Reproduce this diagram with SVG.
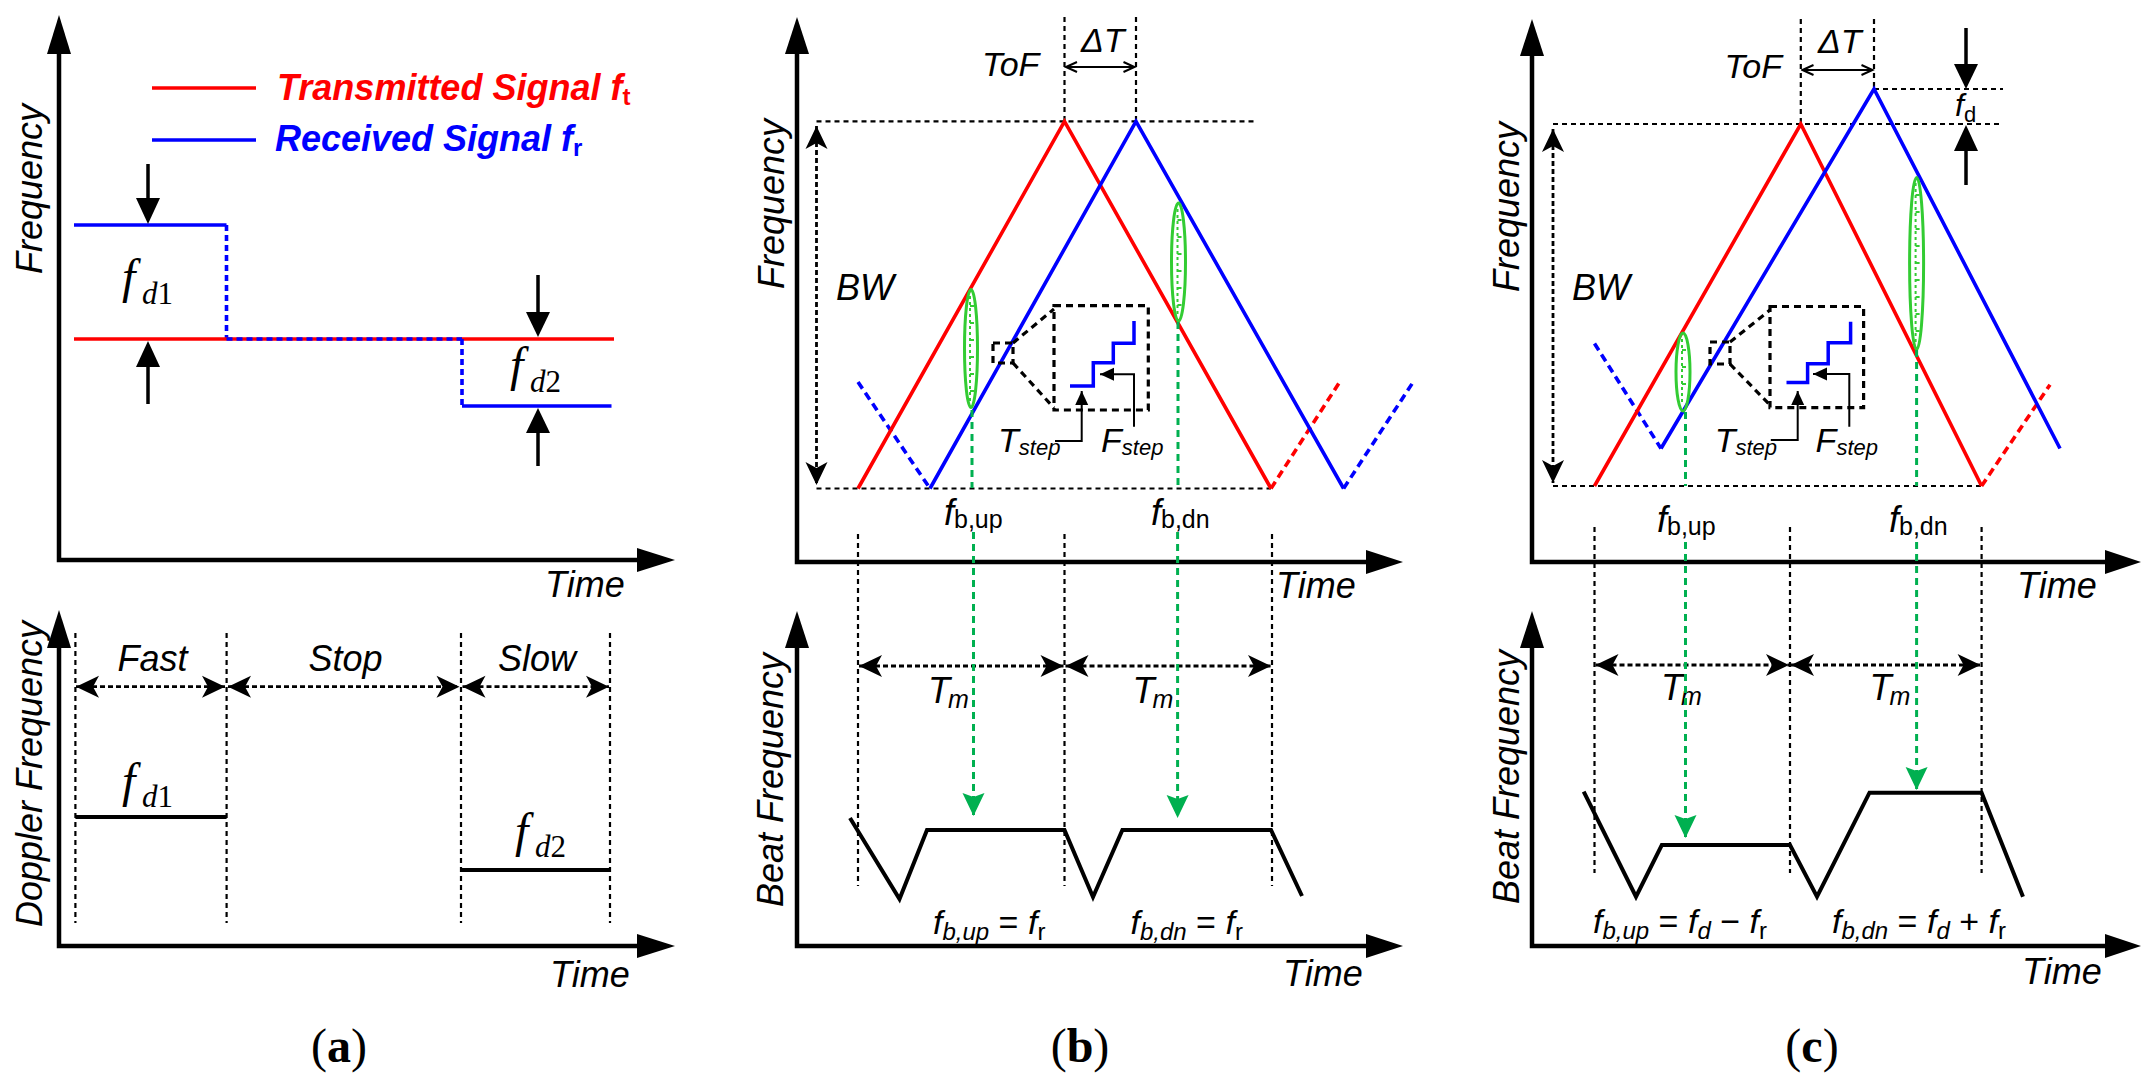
<svg xmlns="http://www.w3.org/2000/svg" width="2150" height="1089" viewBox="0 0 2150 1089">
<defs>
<style>
.ax{fill:none;stroke:#000;stroke-width:4.5;stroke-linejoin:miter}
.hd{fill:#000;stroke:none}
.dsh{fill:none;stroke:#000;stroke-width:2.2;stroke-dasharray:5 4}
.dar{fill:none;stroke:#000;stroke-width:2.8;stroke-dasharray:5 3}
.box{fill:none;stroke:#000;stroke-width:3.2;stroke-dasharray:7 5}
.red{fill:none;stroke:#f00;stroke-width:3.6;stroke-linejoin:miter}
.blu{fill:none;stroke:#00f;stroke-width:3.6;stroke-linejoin:miter}
.redd{fill:none;stroke:#f00;stroke-width:3.6;stroke-dasharray:8 5}
.blud{fill:none;stroke:#00f;stroke-width:3.6;stroke-dasharray:8 5}
.bdot{fill:none;stroke:#00f;stroke-width:3.6;stroke-dasharray:6 4}
.grn{fill:none;stroke:#00b050;stroke-width:3;stroke-dasharray:7 5}
.ell{fill:none;stroke:#33cc33;stroke-width:3}
.edot{fill:none;stroke:#33cc33;stroke-width:2;stroke-dasharray:3 3}
.etk{fill:none;stroke:#33cc33;stroke-width:2}
.blk{fill:none;stroke:#000;stroke-width:4;stroke-linejoin:miter}
.thin{fill:none;stroke:#000;stroke-width:2}
.ar{fill:none;stroke:#000;stroke-width:3.5}
.stair{fill:none;stroke:#00f;stroke-width:3.5}
.t{font-family:"Liberation Sans",Arial,sans-serif;font-style:italic;font-size:36px;fill:#000}
.f34{font-family:"Liberation Sans",Arial,sans-serif;font-size:34px;fill:#000}
.leg{font-family:"Liberation Sans",Arial,sans-serif;font-style:italic;font-weight:bold;font-size:36px}
.tm{font-family:"Liberation Serif","Times New Roman",serif;fill:#000}
.cap{font-family:"Liberation Serif","Times New Roman",serif;font-size:48px;text-anchor:middle;fill:#000}
</style>
<marker id="st" viewBox="-24 -12 26 24" refX="0" refY="0" markerWidth="26" markerHeight="24" markerUnits="userSpaceOnUse" orient="auto-start-reverse"><path d="M0,0 L-23,-11 L-17,0 L-23,11 Z" fill="#000"/></marker>
<marker id="ga" viewBox="-24 -12 26 24" refX="0" refY="0" markerWidth="26" markerHeight="24" markerUnits="userSpaceOnUse" orient="auto"><path d="M0,0 L-23,-11 L-19,0 L-23,11 Z" fill="#00b050"/></marker>
<marker id="sa" viewBox="-15 -8 16 16" refX="0" refY="0" markerWidth="16" markerHeight="16" markerUnits="userSpaceOnUse" orient="auto"><path d="M0,0 L-14,-6.5 L-14,6.5 Z" fill="#000"/></marker>
<marker id="oa" viewBox="-13 -7 15 14" refX="0" refY="0" markerWidth="15" markerHeight="14" markerUnits="userSpaceOnUse" orient="auto-start-reverse"><path d="M-11,-5 L0,0 L-11,5" fill="none" stroke="#000" stroke-width="2"/></marker>
</defs>
<rect width="2150" height="1089" fill="#fff"/>

<!-- ================= PANEL (a) TOP ================= -->
<g id="panel-a-top">
<polyline class="ax" points="59,52 59,560 640,560"/>
<polygon class="hd" points="59,15 47,54 71,54"/>
<polygon class="hd" points="675,560 637,548 637,572"/>
<text class="t" transform="translate(42,189) rotate(-90)" text-anchor="middle">Frequency</text>
<text class="t" x="545" y="597">Time</text>
<g id="legend">
<line class="red" x1="152" y1="88" x2="256" y2="88"/>
<line class="blu" x1="152" y1="140" x2="256" y2="140"/>
<text class="leg" x="277" y="100" fill="#f00">Transmitted Signal f<tspan font-size="24" dy="5" font-style="normal">t</tspan></text>
<text class="leg" x="275" y="151" fill="#00f">Received Signal f<tspan font-size="24" dy="5" font-style="normal">r</tspan></text>
</g>
<g id="signals-a">
<line class="blu" x1="74" y1="225" x2="226.5" y2="225"/>
<line class="bdot" x1="226.5" y1="225" x2="226.5" y2="339"/>
<line class="red" x1="74" y1="339" x2="614" y2="339"/>
<line class="bdot" x1="226.5" y1="339" x2="462" y2="339"/>
<line class="bdot" x1="462" y1="339" x2="462" y2="406"/>
<line class="blu" x1="462" y1="406" x2="611.5" y2="406"/>
</g>
<g id="fd-arrows-a">
<line class="ar" x1="148" y1="164" x2="148" y2="202"/><polygon class="hd" points="148,224 136,198 160,198"/>
<line class="ar" x1="148" y1="404" x2="148" y2="364"/><polygon class="hd" points="148,341 136,367 160,367"/>
<line class="ar" x1="538" y1="275" x2="538" y2="315"/><polygon class="hd" points="538,337 526,312 550,312"/>
<line class="ar" x1="538" y1="466" x2="538" y2="430"/><polygon class="hd" points="538,408 526,433 550,433"/>
</g>
<text class="tm" x="122" y="293" style="font-size:48px;font-style:italic">f</text>
<text class="tm" x="142" y="304" style="font-size:31px"><tspan style="font-style:italic">d</tspan>1</text>
<text class="tm" x="510" y="381" style="font-size:48px;font-style:italic">f</text>
<text class="tm" x="530" y="392" style="font-size:31px"><tspan style="font-style:italic">d</tspan>2</text>
</g>

<!-- ================= PANEL (a) BOTTOM ================= -->
<g id="panel-a-bottom">
<polyline class="ax" points="59,648 59,946 640,946"/>
<polygon class="hd" points="59,610 47,648 71,648"/>
<polygon class="hd" points="675,946 637,934 637,958"/>
<text class="t" transform="translate(42,774) rotate(-90)" text-anchor="middle">Doppler Frequency</text>
<text class="t" x="550" y="987">Time</text>
<line class="dsh" x1="75.4" y1="633" x2="75.4" y2="923"/>
<line class="dsh" x1="226.6" y1="633" x2="226.6" y2="923"/>
<line class="dsh" x1="461" y1="633" x2="461" y2="923"/>
<line class="dsh" x1="610" y1="633" x2="610" y2="923"/>
<line class="dar" x1="76" y1="686.7" x2="225" y2="686.7" marker-start="url(#st)" marker-end="url(#st)"/>
<line class="dar" x1="228" y1="686.7" x2="459.5" y2="686.7" marker-start="url(#st)" marker-end="url(#st)"/>
<line class="dar" x1="462.5" y1="686.7" x2="609" y2="686.7" marker-start="url(#st)" marker-end="url(#st)"/>
<text class="t" x="152.5" y="671" text-anchor="middle">Fast</text>
<text class="t" x="345.5" y="671" text-anchor="middle">Stop</text>
<text class="t" x="537" y="671" text-anchor="middle">Slow</text>
<line class="blk" x1="75.4" y1="817" x2="226.6" y2="817"/>
<line class="blk" x1="461" y1="870" x2="610" y2="870"/>
<text class="tm" x="122" y="797" style="font-size:48px;font-style:italic">f</text>
<text class="tm" x="142" y="807" style="font-size:31px"><tspan style="font-style:italic">d</tspan>1</text>
<text class="tm" x="515" y="847" style="font-size:48px;font-style:italic">f</text>
<text class="tm" x="535" y="857" style="font-size:31px"><tspan style="font-style:italic">d</tspan>2</text>
<text class="cap" x="339" y="1062">(<tspan font-weight="bold">a</tspan>)</text>
</g>

<!-- ================= PANEL (b) TOP ================= -->
<g id="panel-b-top">
<polyline class="ax" points="797,53 797,562 1366,562"/>
<polygon class="hd" points="797,17 785,54 809,54"/>
<polygon class="hd" points="1403,562 1366,550 1366,574"/>
<text class="t" transform="translate(784,204) rotate(-90)" text-anchor="middle">Frequency</text>
<text class="t" x="1276" y="598">Time</text>
<line class="dsh" x1="816.5" y1="121.4" x2="1256" y2="121.4"/>
<line class="dsh" x1="816.5" y1="488.5" x2="1271" y2="488.5"/>
<line class="dar" x1="816.5" y1="126" x2="816.5" y2="485" marker-start="url(#st)" marker-end="url(#st)"/>
<text class="t" x="836" y="300">BW</text>
<line class="dsh" x1="1064.5" y1="17" x2="1064.5" y2="121.4"/>
<line class="dsh" x1="1136" y1="17" x2="1136" y2="121.4"/>
<line class="thin" x1="1066" y1="67" x2="1134.5" y2="67" marker-start="url(#oa)" marker-end="url(#oa)"/>
<text class="t" x="982" y="76" style="font-size:34px">ToF</text>
<text class="t" x="1081" y="51.5" style="font-size:34px">ΔT</text>
<line class="blud" x1="858" y1="382" x2="930" y2="488.5"/>
<polyline class="red" points="858,488.5 1064.5,121.4 1271,488.5"/>
<line class="redd" x1="1271" y1="488.5" x2="1339" y2="383"/>
<polyline class="blu" points="930,488.5 1136,121.4 1343.6,488.5"/>
<line class="blud" x1="1343.6" y1="488.5" x2="1414.5" y2="380"/>
<g id="ellipses-b">
<ellipse class="ell" cx="971" cy="348.5" rx="6.5" ry="59"/>
<path class="edot" d="M970,296 V402"/>
<path class="etk" d="M970,306 h4 M970,323 h4 M970,340 h4 M970,357 h4 M970,374 h4 M970,391 h4"/>
<ellipse class="ell" cx="1178.5" cy="262" rx="7" ry="59"/>
<path class="edot" d="M1177.5,209 V315"/>
<path class="etk" d="M1177.5,220 h4 M1177.5,237 h4 M1177.5,254 h4 M1177.5,271 h4 M1177.5,288 h4 M1177.5,305 h4"/>
</g>
<g id="inset-b">
<rect class="box" x="993" y="343" width="20" height="20"/>
<line class="box" x1="1013" y1="343" x2="1054" y2="309"/>
<line class="box" x1="1013" y1="363" x2="1054" y2="408"/>
<rect class="box" x="1054" y="305.7" width="94.3" height="104.3"/>
<polyline class="stair" points="1070,386 1093.3,386 1093.3,362.7 1113.3,362.7 1113.3,343.3 1134,343.3 1134,321"/>
<polyline class="thin" points="1055,441 1081.7,441 1081.7,391" marker-end="url(#sa)"/>
<polyline class="thin" points="1134,426.7 1134,374.3 1100,374.3" marker-end="url(#sa)"/>
<text class="t" x="998" y="452" style="font-size:34px">T<tspan font-size="22" dy="3">step</tspan></text>
<text class="t" x="1101" y="452" style="font-size:34px">F<tspan font-size="22" dy="3">step</tspan></text>
</g>
<line class="grn" x1="972" y1="410" x2="972" y2="488"/>
<line class="grn" x1="1178" y1="322" x2="1178" y2="488"/>
<text class="t" x="944" y="525">f<tspan font-style="normal" font-size="25" dy="3">b,up</tspan></text>
<text class="t" x="1151" y="525">f<tspan font-style="normal" font-size="25" dy="3">b,dn</tspan></text>
</g>

<!-- ================= PANEL (b) BOTTOM ================= -->
<g id="panel-b-bottom">
<polyline class="ax" points="797,648 797,946 1366,946"/>
<polygon class="hd" points="797,611 785,648 809,648"/>
<polygon class="hd" points="1403,946 1366,934 1366,958"/>
<text class="t" transform="translate(783,780) rotate(-90)" text-anchor="middle">Beat Frequency</text>
<text class="t" x="1283" y="986">Time</text>
<line class="dsh" x1="858" y1="534" x2="858" y2="886"/>
<line class="dsh" x1="1064.5" y1="534" x2="1064.5" y2="886"/>
<line class="dsh" x1="1272" y1="534" x2="1272" y2="886"/>
<line class="dar" x1="859" y1="666" x2="1063.5" y2="666" marker-start="url(#st)" marker-end="url(#st)"/>
<line class="dar" x1="1065.5" y1="666" x2="1271" y2="666" marker-start="url(#st)" marker-end="url(#st)"/>
<text class="t" x="928" y="703">T<tspan font-size="25" dx="-2" dy="5">m</tspan></text>
<text class="t" x="1132.5" y="703">T<tspan font-size="25" dx="-2" dy="5">m</tspan></text>
<line class="grn" x1="973.5" y1="532" x2="973.5" y2="816" marker-end="url(#ga)"/>
<line class="grn" x1="1177.6" y1="532" x2="1177.6" y2="818" marker-end="url(#ga)"/>
<polyline class="blk" points="850,818 899.5,899 927,830 1064.5,830 1093,897 1122.4,830 1271,830 1302,896"/>
<text class="f34" x="933" y="934"><tspan font-style="italic">f</tspan><tspan font-style="italic" font-size="24" dy="6">b,up</tspan><tspan dy="-6"> = </tspan><tspan font-style="italic">f</tspan><tspan font-size="24" dy="6">r</tspan></text>
<text class="f34" x="1130.5" y="934"><tspan font-style="italic">f</tspan><tspan font-style="italic" font-size="24" dy="6">b,dn</tspan><tspan dy="-6"> = </tspan><tspan font-style="italic">f</tspan><tspan font-size="24" dy="6">r</tspan></text>
<text class="cap" x="1080" y="1062">(<tspan font-weight="bold">b</tspan>)</text>
</g>

<!-- ================= PANEL (c) TOP ================= -->
<g id="panel-c-top">
<polyline class="ax" points="1532,55 1532,562 2105,562"/>
<polygon class="hd" points="1532,19 1520,56 1544,56"/>
<polygon class="hd" points="2141,562 2105,550 2105,574"/>
<text class="t" transform="translate(1519,207) rotate(-90)" text-anchor="middle">Frequency</text>
<text class="t" x="2017" y="598">Time</text>
<line class="dsh" x1="1553" y1="124" x2="2001" y2="124"/>
<line class="dsh" x1="1874" y1="89" x2="2003" y2="89"/>
<line class="dsh" x1="1553" y1="486" x2="1981.6" y2="486"/>
<line class="dar" x1="1553" y1="129" x2="1553" y2="483" marker-start="url(#st)" marker-end="url(#st)"/>
<text class="t" x="1572" y="300">BW</text>
<line class="dsh" x1="1800.8" y1="19" x2="1800.8" y2="124"/>
<line class="dsh" x1="1874" y1="19" x2="1874" y2="89"/>
<line class="thin" x1="1802.5" y1="70" x2="1872.5" y2="70" marker-start="url(#oa)" marker-end="url(#oa)"/>
<text class="t" x="1724.6" y="78" style="font-size:34px">ToF</text>
<text class="t" x="1818" y="53.4" style="font-size:34px">ΔT</text>
<g id="fd-arrows-c">
<line class="ar" x1="1966" y1="28" x2="1966" y2="67"/><polygon class="hd" points="1966,89 1954,64 1978,64"/>
<line class="ar" x1="1966" y1="185" x2="1966" y2="148"/><polygon class="hd" points="1966,125 1954,151 1978,151"/>
<text class="t" x="1955" y="116" style="font-size:32px">f<tspan font-style="normal" font-size="22" dy="6">d</tspan></text>
</g>
<line class="blud" x1="1594.5" y1="343.5" x2="1661" y2="448.5"/>
<polyline class="red" points="1594.5,486 1800.8,124 1981.6,486"/>
<line class="redd" x1="1981.6" y1="486" x2="2050" y2="384.7"/>
<polyline class="blu" points="1661,448.5 1874,89 2060,448.5"/>
<g id="ellipses-c">
<ellipse class="ell" cx="1683" cy="372" rx="7" ry="39"/>
<path class="edot" d="M1682,339 V405"/>
<path class="etk" d="M1682,350 h4 M1682,367 h4 M1682,384 h4"/>
<ellipse class="ell" cx="1916.6" cy="263.5" rx="7" ry="86"/>
<path class="edot" d="M1915.6,183 V344"/>
<path class="etk" d="M1915.6,195 h4 M1915.6,212 h4 M1915.6,229 h4 M1915.6,246 h4 M1915.6,263 h4 M1915.6,280 h4 M1915.6,297 h4 M1915.6,314 h4 M1915.6,331 h4"/>
</g>
<g id="inset-c">
<rect class="box" x="1710" y="342" width="20" height="22"/>
<line class="box" x1="1730" y1="342" x2="1770" y2="310"/>
<line class="box" x1="1730" y1="364" x2="1770" y2="405"/>
<rect class="box" x="1770" y="306.5" width="93.6" height="101.1"/>
<polyline class="stair" points="1786.5,382.4 1807.6,382.4 1807.6,363.7 1828.2,363.7 1828.2,342.7 1850.6,342.7 1850.6,321.8"/>
<polyline class="thin" points="1770.8,440 1797.7,440 1797.7,391" marker-end="url(#sa)"/>
<polyline class="thin" points="1849.3,426.7 1849.3,374 1813,374" marker-end="url(#sa)"/>
<text class="t" x="1714.7" y="452" style="font-size:34px">T<tspan font-size="22" dy="3">step</tspan></text>
<text class="t" x="1815.6" y="452" style="font-size:34px">F<tspan font-size="22" dy="3">step</tspan></text>
</g>
<line class="grn" x1="1685.5" y1="412" x2="1685.5" y2="486"/>
<line class="grn" x1="1916.6" y1="350" x2="1916.6" y2="486"/>
<text class="t" x="1657" y="532">f<tspan font-style="normal" font-size="25" dy="3">b,up</tspan></text>
<text class="t" x="1889" y="532">f<tspan font-style="normal" font-size="25" dy="3">b,dn</tspan></text>
</g>

<!-- ================= PANEL (c) BOTTOM ================= -->
<g id="panel-c-bottom">
<polyline class="ax" points="1532,648 1532,946 2105,946"/>
<polygon class="hd" points="1532,611 1520,648 1544,648"/>
<polygon class="hd" points="2141,946 2105,934 2105,958"/>
<text class="t" transform="translate(1519,777) rotate(-90)" text-anchor="middle">Beat Frequency</text>
<text class="t" x="2022" y="984">Time</text>
<line class="dsh" x1="1594.5" y1="527" x2="1594.5" y2="873"/>
<line class="dsh" x1="1790" y1="527" x2="1790" y2="873"/>
<line class="dsh" x1="1981.6" y1="527" x2="1981.6" y2="873"/>
<line class="dar" x1="1595.5" y1="665" x2="1789" y2="665" marker-start="url(#st)" marker-end="url(#st)"/>
<line class="dar" x1="1791" y1="665" x2="1980.6" y2="665" marker-start="url(#st)" marker-end="url(#st)"/>
<text class="t" x="1661" y="700">T<tspan font-size="25" dx="-2" dy="5">m</tspan></text>
<text class="t" x="1869.5" y="700">T<tspan font-size="25" dx="-2" dy="5">m</tspan></text>
<line class="grn" x1="1685.5" y1="542" x2="1685.5" y2="838" marker-end="url(#ga)"/>
<line class="grn" x1="1916.6" y1="542" x2="1916.6" y2="790" marker-end="url(#ga)"/>
<polyline class="blk" points="1583.7,791.7 1636,896.7 1661.8,845 1790,845 1817,896.7 1869.5,792.7 1981.6,792.7 2023,896.7"/>
<text class="f34" x="1593" y="933"><tspan font-style="italic">f</tspan><tspan font-style="italic" font-size="24" dy="6">b,up</tspan><tspan dy="-6"> = </tspan><tspan font-style="italic">f</tspan><tspan font-style="italic" font-size="24" dy="6">d</tspan><tspan dy="-6"> − </tspan><tspan font-style="italic">f</tspan><tspan font-size="24" dy="6">r</tspan></text>
<text class="f34" x="1832" y="933"><tspan font-style="italic">f</tspan><tspan font-style="italic" font-size="24" dy="6">b,dn</tspan><tspan dy="-6"> = </tspan><tspan font-style="italic">f</tspan><tspan font-style="italic" font-size="24" dy="6">d</tspan><tspan dy="-6"> + </tspan><tspan font-style="italic">f</tspan><tspan font-size="24" dy="6">r</tspan></text>
<text class="cap" x="1812" y="1062">(<tspan font-weight="bold">c</tspan>)</text>
</g>
</svg>
